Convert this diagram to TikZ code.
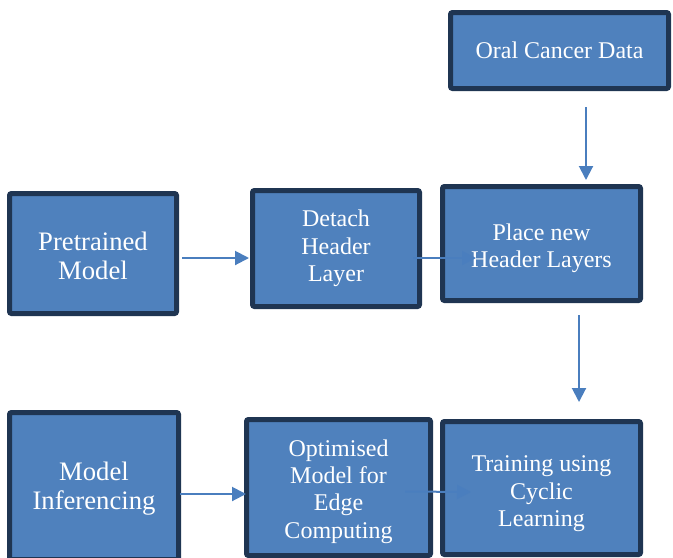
\documentclass[tikz,border=0pt]{standalone}
\usepackage{fontspec}
\setmainfont{Liberation Serif}
\usetikzlibrary{calc,arrows.meta}
\definecolor{boxfill}{HTML}{4F81BD}
\definecolor{boxline}{HTML}{1F3552}
\definecolor{arrcol}{HTML}{4A7EBE}
\tikzset{
  blk/.style={draw=boxline, fill=boxfill, line width=3.75pt, rounded corners=1.5pt, inner sep=0pt},
  txt/.style={text=white, align=center, inner sep=0pt},
  smalltxt/.style={txt, font=\fontsize{18}{20.6}\selectfont},
  bigtxt/.style={txt, font=\fontsize{20}{21.4}\selectfont},
  arr/.style={draw=arrcol, line width=1.5pt, -{Triangle[length=10.5pt,width=10.5pt]}}
}
\begin{document}
\begin{tikzpicture}[x=0.75pt,y=-0.75pt]
\useasboundingbox (0,0) rectangle (673,557);
\clip (0,0) rectangle (673,557);
% boxes
\node[blk,minimum width=163.5pt,minimum height=57pt] (oral) at (559.5,50.5) {};
\node[blk,minimum width=125.25pt,minimum height=90pt] (pre) at (93,253.5) {};
\node[blk,minimum width=125.25pt,minimum height=87pt] (det) at (336,248.5) {};
\node[blk,minimum width=148.5pt,minimum height=85.5pt] (place) at (541.5,243.5) {};
\node[blk,minimum width=126.75pt,minimum height=110.25pt] (inf) at (94,486) {};
\node[blk,minimum width=138pt,minimum height=102pt] (opt) at (338.5,487.5) {};
\node[blk,minimum width=148.5pt,minimum height=99.75pt] (train) at (541.5,488) {};
% texts
\node[smalltxt] (oralt) at ($(oral.center)+(0,0)$) {Oral Cancer Data};
\node[bigtxt] (pret) at ($(pre.center)+(0,2.5)$) {Pretrained\\Model};
\node[smalltxt] (dett) at ($(det.center)+(0,0)$) {Detach\\Header\\Layer};
\node[smalltxt] (placet) at ($(place.center)+(0,4.5)$) {Place new\\Header Layers};
\node[bigtxt] (inft) at ($(inf.center)+(0,2.5)$) {Model\\Inferencing};
\node[smalltxt] (optt) at ($(opt.center)+(0,4)$) {Optimised\\Model for\\Edge\\Computing};
\node[smalltxt] (traint) at ($(train.center)+(0,6)$) {Training using\\Cyclic\\Learning};
% connectors
\draw[arr] ($(oral.south)+(26.5,16)$) -- ($(place.north)+(44.5,-4)$);
\draw[arr] ($(place.south)+(37.5,12)$) -- ($(train.north)+(37.5,-17)$);
\draw[arr] ($(pre.east)+(3,4.5)$) -- ($(det.west)+(-1,9.5)$);
\draw[arr] ($(det.east)+(-9,9.5)$) -- ($(place.west)+(36,14.5)$);
\draw[arr] ($(inf.east)+(-1,8)$) -- ($(opt.west)+(2,6.5)$);
\draw[arr] ($(opt.east)+(-28,4)$) -- ($(train.west)+(31,4)$);
\end{tikzpicture}
\end{document}
